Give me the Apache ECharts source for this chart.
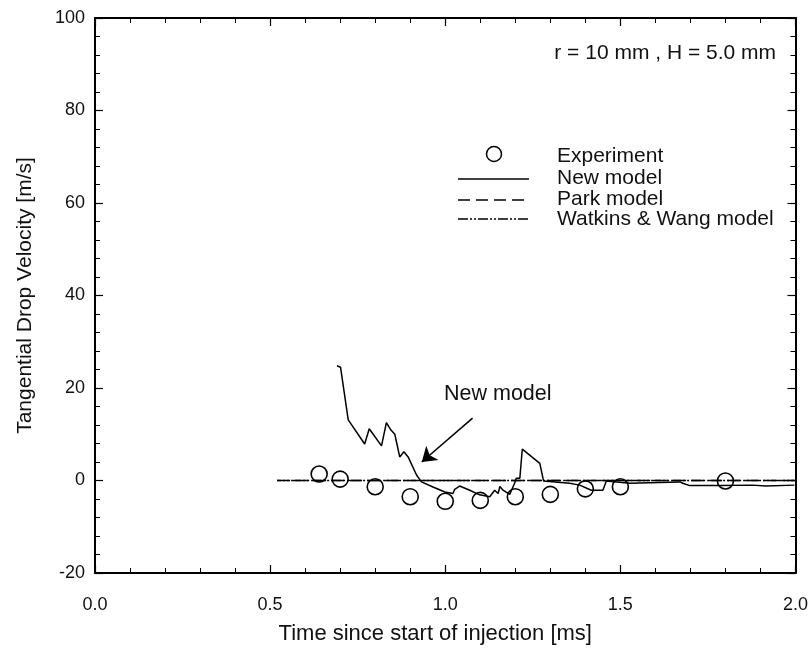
<!DOCTYPE html>
<html><head><meta charset="utf-8">
<script src="https://cdn.jsdelivr.net/npm/echarts@6/dist/echarts.min.js"></script>
<style>html,body{margin:0;padding:0;background:#fff}#c{width:811px;height:650px}</style>
</head><body><div id="c"></div>
<script>
const xTicks = [0.0, 0.5, 1.0, 1.5, 2.0];
const yTicks = [-20, 0, 20, 40, 60, 80, 100];
const expX = [0.64, 0.70, 0.80, 0.90, 1.00, 1.10, 1.20, 1.30, 1.40, 1.50, 1.80];
const expY = [1.4, 0.3, -1.35, -3.5, -4.5, -4.3, -3.5, -3.0, -1.8, -1.35, -0.1];
const newX = [0.691, 0.701, 0.723, 0.770, 0.783, 0.818, 0.832, 0.845, 0.856, 0.870, 0.882, 0.894, 0.918, 0.932, 0.965, 0.999, 1.022, 1.027, 1.041, 1.070, 1.098, 1.127, 1.141, 1.151, 1.156, 1.165, 1.184, 1.198, 1.203, 1.213, 1.220, 1.270, 1.279, 1.281, 1.355, 1.384, 1.417, 1.450, 1.460, 1.527, 1.670, 1.678, 1.698, 1.783, 1.877, 1.916, 1.997];
const newY = [24.8, 24.5, 13.1, 7.9, 11.2, 7.5, 12.5, 10.9, 10.0, 5.1, 6.2, 5.1, 1.2, -0.3, -1.4, -2.5, -2.8, -1.9, -1.2, -2.1, -3.1, -3.5, -2.1, -2.8, -1.3, -2.1, -3.0, -0.6, 0.5, 0.5, 6.8, 3.7, 0.5, -0.1, -0.6, -1.0, -2.1, -2.1, -0.1, -0.6, -0.3, -0.6, -1.1, -1.1, -1.0, -1.2, -1.0];
const parkX = [0.52, 2.0];
const parkY = [0, 0];
const wwX = [0.52, 2.0];
const wwY = [0, 0];
const arrowFrom = [1.078, 13.5];
const arrowTo = [0.933, 4.0];
const annotText = 'New model';
const annotPos = [1.15, 18.6];
const infoText = 'r = 10 mm , H = 5.0 mm';
const seriesNames = ['Experiment', 'New model', 'Park model', 'Watkins & Wang model'];

const zip = (a, b) => a.map((v, i) => [v, b[i]]);
const FONT = 'Liberation Sans';
const TXT = '#111';
const PARK_DASH = [13, 5];
const WW_DASH = [10, 2, 2, 2, 2, 2];
const chart = echarts.init(document.getElementById('c'), null, {renderer: 'canvas'});
const axisCommon = {
  axisLine: {show: true, onZero: false, lineStyle: {color: '#000', width: 2}},
  axisTick: {show: true, inside: true, length: 8, lineStyle: {color: '#000', width: 1.2}},
  minorTick: {show: true, splitNumber: 5, length: 5, lineStyle: {color: '#000', width: 1}},
  splitLine: {show: false}
};
chart.setOption({
  animation: false,
  backgroundColor: '#fff',
  grid: {left: 95, right: 15, top: 18, bottom: 77, containLabel: false},
  xAxis: [
    Object.assign({type: 'value', min: 0, max: 2, interval: 0.5, position: 'bottom',
      name: 'Time since start of injection [ms]', nameLocation: 'middle', nameGap: 50,
      nameTextStyle: {fontFamily: FONT, fontSize: 22, color: TXT, padding: [0, 20, 0, 0]},
      axisLabel: {fontFamily: FONT, fontSize: 18, color: TXT, margin: 23,
        formatter: v => xTicks.includes(v) ? v.toFixed(1) : ''}}, axisCommon),
    Object.assign({type: 'value', min: 0, max: 2, interval: 0.5, position: 'top',
      axisLabel: {show: false}}, axisCommon)
  ],
  yAxis: [
    Object.assign({type: 'value', min: -20, max: 100, interval: 20, position: 'left',
      name: 'Tangential Drop Velocity [m/s]', nameLocation: 'middle', nameGap: 59,
      nameTextStyle: {fontFamily: FONT, fontSize: 21, color: TXT},
      axisLabel: {fontFamily: FONT, fontSize: 18, color: TXT, margin: 10,
        formatter: v => yTicks.includes(v) ? String(v) : ''}}, axisCommon),
    Object.assign({type: 'value', min: -20, max: 100, interval: 20, position: 'right',
      axisLabel: {show: false}}, axisCommon)
  ],
  series: [
    {name: seriesNames[1], type: 'line', data: zip(newX, newY), showSymbol: false, symbol: 'none',
      lineStyle: {color: '#000', width: 1.5}, itemStyle: {color: '#000'}, z: 3},
    {name: seriesNames[2], type: 'line', data: zip(parkX, parkY), symbol: 'none',
      lineStyle: {color: '#000', width: 1.3, type: PARK_DASH}, itemStyle: {color: '#000'}, z: 2},
    {name: seriesNames[3], type: 'line', data: zip(wwX, wwY), symbol: 'none',
      lineStyle: {color: '#000', width: 1.3, type: WW_DASH, dashOffset: 6}, itemStyle: {color: '#000'}, z: 2},
    {name: seriesNames[0], type: 'scatter', data: zip(expX, expY), symbol: 'circle', symbolSize: 16,
      itemStyle: {color: 'rgba(0,0,0,0)', borderColor: '#000', borderWidth: 1.6, opacity: 1}, z: 5},
    {type: 'lines', coordinateSystem: 'cartesian2d', polyline: false,
      data: [{coords: [arrowFrom, arrowTo]}],
      symbol: ['none', 'arrow'], symbolSize: [8, 14],
      lineStyle: {color: '#000', width: 1.5, opacity: 1}, z: 6}
  ]
});
const ap = chart.convertToPixel({xAxisIndex: 0, yAxisIndex: 0}, annotPos);
const LX0 = 458, LX1 = 529, LT = 557;
const rows = [156, 178, 199, 219];
const legendEls = [];
rows.forEach((y, i) => {
  legendEls.push({type: 'text', x: LT, y: y, z: 10,
    style: {text: seriesNames[i], fontFamily: FONT, fontSize: 21, fill: TXT, textVerticalAlign: 'middle'}});
});
legendEls.push({type: 'circle', z: 10, shape: {cx: 494, cy: 154, r: 7.5},
  style: {fill: 'none', stroke: '#000', lineWidth: 1.5}});
legendEls.push({type: 'line', z: 10, shape: {x1: LX0, y1: 179, x2: LX1, y2: 179},
  style: {stroke: '#000', lineWidth: 1.5}});
legendEls.push({type: 'line', z: 10, shape: {x1: LX0, y1: 200, x2: LX1, y2: 200},
  style: {stroke: '#000', lineWidth: 1.3, lineDash: [12, 6]}});
legendEls.push({type: 'line', z: 10, shape: {x1: LX0, y1: 219, x2: LX1, y2: 219},
  style: {stroke: '#000', lineWidth: 1.3, lineDash: WW_DASH}});
chart.setOption({
  graphic: legendEls.concat([
    {type: 'text', x: ap[0], y: ap[1], z: 10,
      style: {text: annotText, fontFamily: FONT, fontSize: 21.5, fill: TXT, textAlign: 'center', textVerticalAlign: 'middle'}},
    {type: 'text', x: 776, y: 53, z: 10,
      style: {text: infoText, fontFamily: FONT, fontSize: 21, fill: TXT, textAlign: 'right', textVerticalAlign: 'middle'}}
  ])
});
</script></body></html>
